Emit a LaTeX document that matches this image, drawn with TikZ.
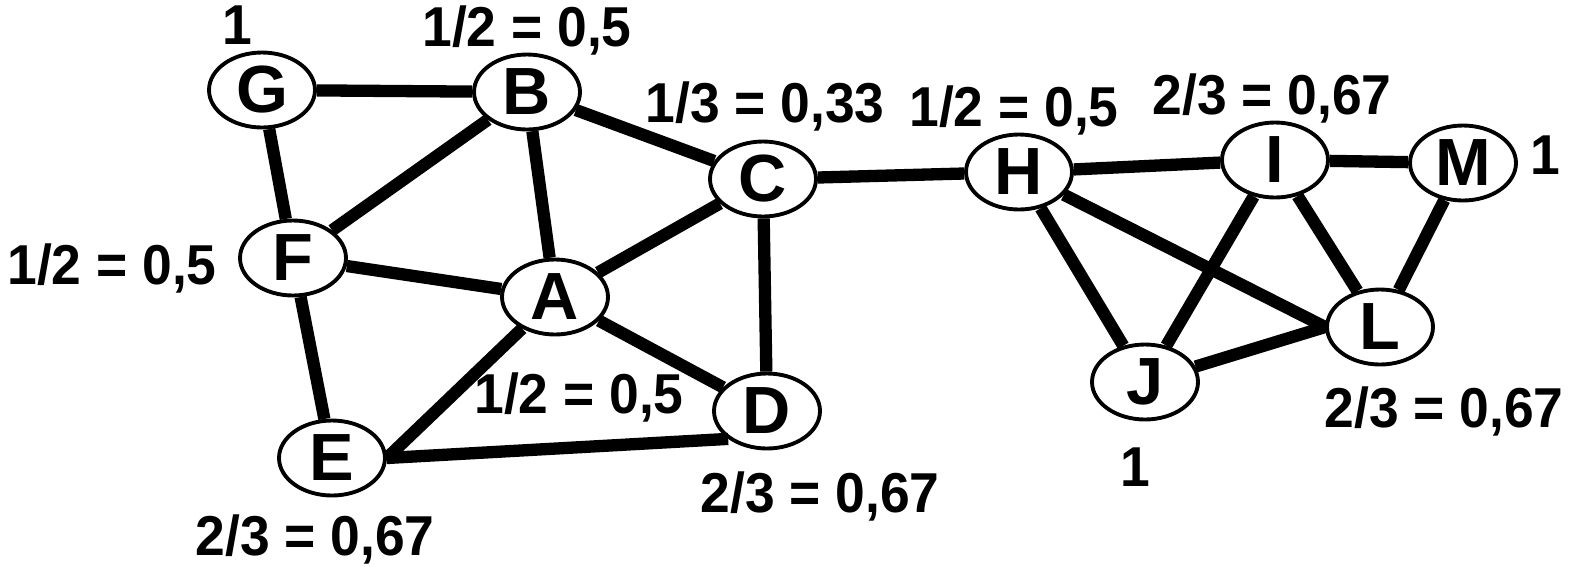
\documentclass[tikz,border=0pt]{standalone}
\usepackage{fontspec}
\setmainfont{Liberation Sans}
\newfontfamily\labelfont{Liberation Sans}[FakeStretch=0.95]
\usetikzlibrary{shapes.geometric}

\begin{document}
\begin{tikzpicture}[x=0.02cm, y=-0.02cm, node/.style={ellipse, draw, fill=white, line width=2.2pt, minimum width=2.12cm, minimum height=1.5cm, inner sep=0pt, font=\fontsize{38}{38}\selectfont\bfseries}, label/.style={font=\labelfont\fontsize{32}{32}\selectfont\bfseries, inner sep=0pt}, edge/.style={line width=7pt}]
		\useasboundingbox (0,0) rectangle (1579,566);

		\node (g)[node] at (262,90){G};
		\node (b)[node] at (527,92){B};
		\node (c)[node] at (763,179){C};
		\node (f)[node] at (293,258){F};
		\node (a)[node] at (555,297){A};
		\node (d)[node] at (767,411){D};
		\node (e)[node] at (332,458){E};

		\node (h)[node] at (1019,172){H};
		\node (i)[node] at (1275,160){I};
		\node (m)[node] at (1463,163){M};
		\node (j)[node] at (1145,382){J};
		\node (l)[node] at (1380,327){L};

		\draw [edge](g)
		edge (b)
		edge (f);
		\draw [edge](b)
		edge (f)
		edge (a)
		edge (c);
		\draw [edge](c)
		edge (a)
		edge (d)
		edge (h);
		\draw [edge](f)
		edge (a)
		edge (e);
		\draw [edge](a)
		edge (e.east)
		edge (d);
		\draw [edge](e.east)
		edge (d.south west);
		\draw [edge](h)
		edge (i)
		edge (j)
		edge (l.west);
		\draw [edge](i)
		edge (m)
		edge (j)
		edge (l);
		\draw [edge](l.west)
		edge (j);
		\draw [edge](l)
		edge (m);

		\node (lg)[label] at (237,25){1};
		\node (lb)[label] at (527,30){1/2 = 0,5};
		\node (lc)[label] at (765,106){1/3 = 0,33};
		\node (lh)[label] at (1014,110){1/2 = 0,5};
		\node (li)[label] at (1272,98){2/3 = 0,67};
		\node (lm)[label] at (1545,155){1};
		\node (lf)[label] at (112,268){1/2 = 0,5};
		\node (la)[label] at (579,397){1/2 = 0,5};
		\node (ll)[label] at (1444,411){2/3 = 0,67};
		\node (lj)[label] at (1135,467){1};
		\node (ld)[label] at (820,496){2/3 = 0,67};
		\node (le)[label] at (315,539){2/3 = 0,67};
	\end{tikzpicture}
\end{document}
